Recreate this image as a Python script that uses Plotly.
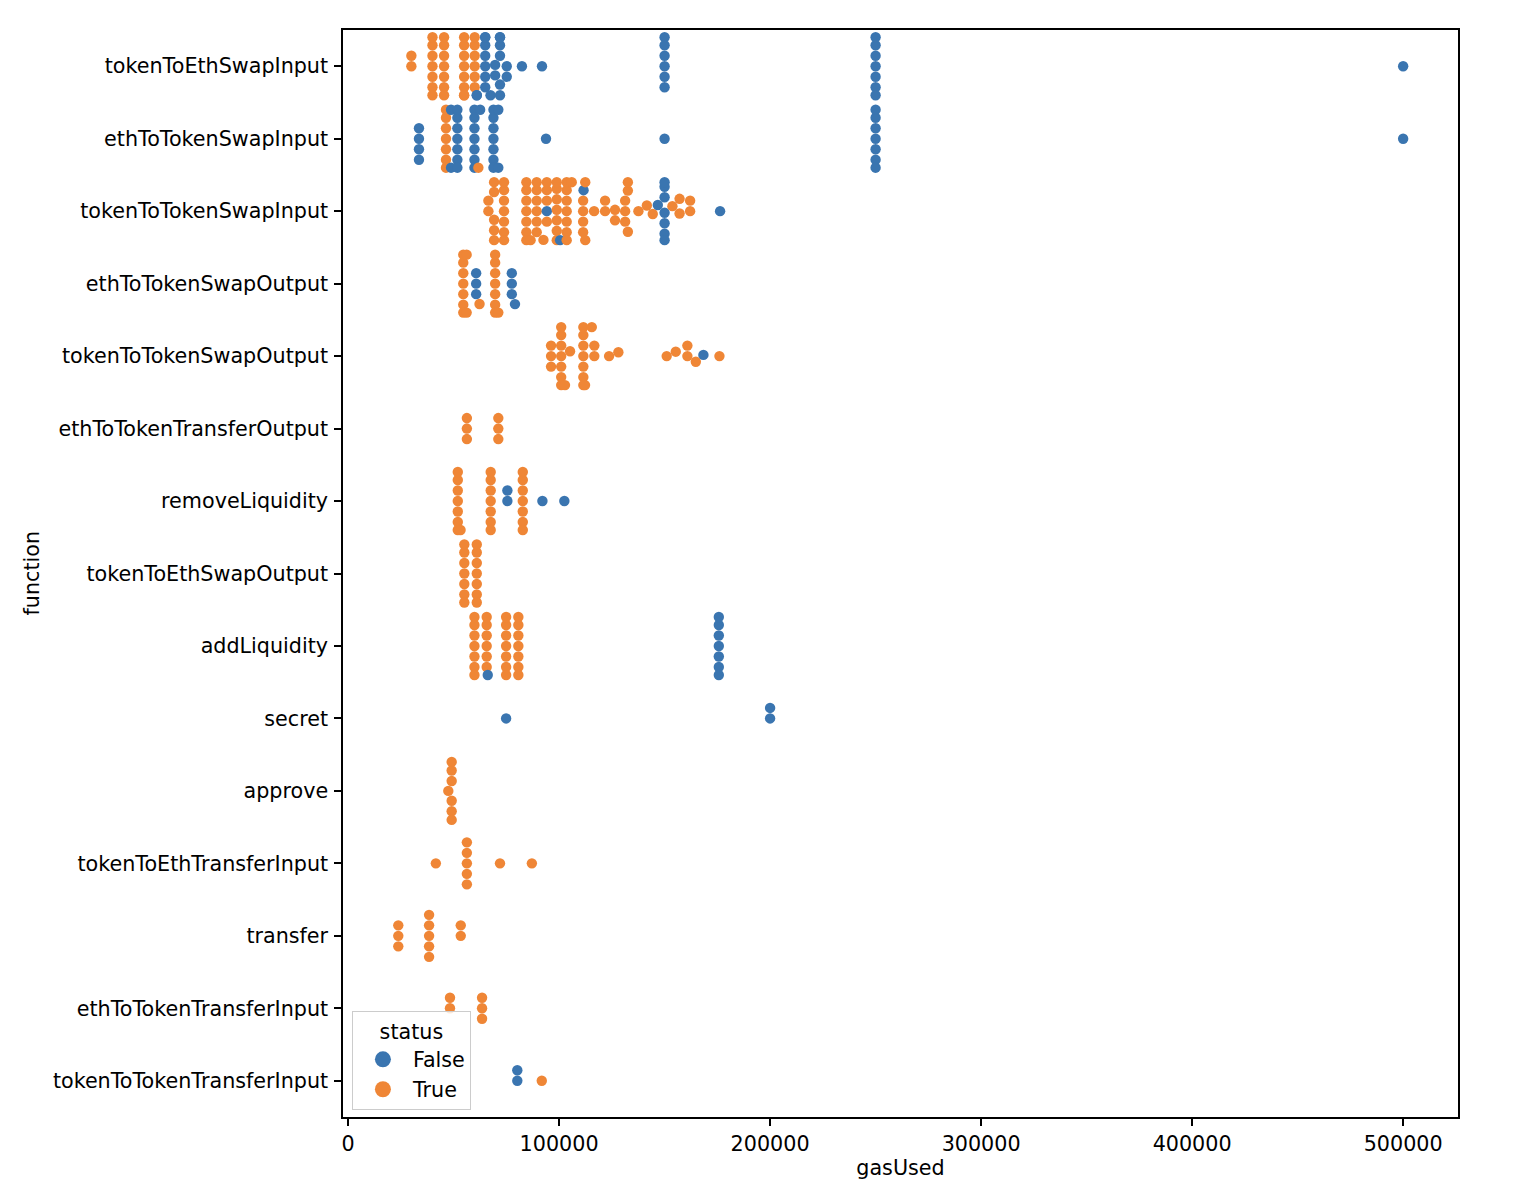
import math
import plotly.graph_objects as go

categories = ["tokenToEthSwapInput", "ethToTokenSwapInput", "tokenToTokenSwapInput",
              "ethToTokenSwapOutput", "tokenToTokenSwapOutput", "ethToTokenTransferOutput",
              "removeLiquidity", "tokenToEthSwapOutput", "addLiquidity", "secret", "approve",
              "tokenToEthTransferInput", "transfer", "ethToTokenTransferInput",
              "tokenToTokenTransferInput"]

# status == False : gasUsed values (per function) and how many transactions share each value
false_gas = [
    [61000, 65000, 67500, 69700, 72000, 75200, 82400, 91900, 150000, 250000, 500000],
    [33600, 48800, 51800, 59900, 62600, 68900, 71200, 93800, 150000, 250000, 500000],
    [94200, 100500, 111600, 146800, 150000, 176300],
    [60700, 77600, 79100],
    [168400],
    [],
    [75500, 92100, 102500],
    [],
    [66200, 175700],
    [74900, 200000],
    [],
    [],
    [],
    [],
    [80200],
]
false_n = [
    [2, 7, 1, 2, 6, 2, 1, 1, 6, 7, 1],
    [4, 2, 7, 7, 1, 7, 2, 1, 1, 7, 1],
    [1, 1, 1, 1, 7, 1],
    [3, 3, 1],
    [1],
    [],
    [2, 1, 1],
    [],
    [1, 7],
    [1, 2],
    [],
    [],
    [],
    [],
    [2],
]

# status == True
true_gas = [
    [30000, 40000, 45500, 55000, 60000],
    [46400, 61750],
    [66500, 69200, 73900, 84500, 86500, 89400, 92600, 94200, 98900, 103600, 106000,
     111400, 112400, 116600, 121800, 126500, 131300, 132600, 137600, 141600, 144400,
     153700, 157100, 162100],
    [54600, 56200, 62300, 69700, 71200],
    [96200, 101000, 102800, 105200, 111500, 112300, 115500, 116700, 123700, 128100,
     151000, 155300, 160800, 164800, 176000],
    [56300, 71200],
    [52000, 53300, 67600, 82800],
    [55100, 61000],
    [59900, 65700, 74900, 80700],
    [],
    [47500, 49100],
    [41600, 56300, 72000, 87100],
    [23800, 38400, 53400],
    [48300, 63500],
    [91800],
]
true_n = [
    [2, 7, 7, 8, 6],
    [7, 1],
    [2, 5, 7, 7, 1, 6, 1, 4, 7, 7, 1, 4, 2, 1, 2, 2, 3, 3, 1, 1, 1, 1, 2, 2],
    [7, 2, 1, 7, 1],
    [3, 7, 1, 1, 7, 1, 1, 2, 1, 1, 1, 1, 2, 1, 1],
    [3, 3],
    [7, 1, 7, 7],
    [7, 7],
    [7, 6, 7, 7],
    [],
    [1, 6],
    [1, 5, 1, 1],
    [3, 5, 2],
    [2, 3],
    [1],
]

COLOR_FALSE = "#3a75b0"
COLOR_TRUE = "#ef8636"

# ---- layout geometry -------------------------------------------------------
W, H = 1524, 1204
ML, MR, MT, MB = 343, 66, 30, 87
X_MIN, X_MAX = -2400, 526000
PLOT_W = W - ML - MR
PLOT_H = H - MT - MB
PX_X = PLOT_W / (X_MAX - X_MIN)
PX_Y = PLOT_H / len(categories)
D = 10.0          # marker diameter in px (swarm spacing)
HALF_W = 0.4      # swarm half width in category units


def beeswarm(vals):
    """Seaborn-like swarm: returns offsets (px, positive = up) for sorted values."""
    placed = []
    for v in vals:
        x = v * PX_X
        neighbors = []
        for xj, oj in reversed(placed):
            if abs(x - xj) < D:
                neighbors.append((xj, oj))
            else:
                break
        cands = [0.0]
        for xj, oj in neighbors:
            dx = x - xj
            dy = math.sqrt(max(D * D - dx * dx, 0.0)) * 1.05
            cands += [oj + dy, oj - dy]
        order = sorted(range(len(cands)), key=lambda k: abs(cands[k]))
        chosen = cands[order[-1]]
        for k in order:
            c = cands[k]
            if all((x - xj) ** 2 + (c - oj) ** 2 >= D * D - 1e-9 for xj, oj in neighbors):
                chosen = c
                break
        placed.append((x, chosen))
    return [o for _, o in placed]


xs, ys, cols = [], [], []
for ci in range(len(categories)):
    pts = []
    for v, n in zip(false_gas[ci], false_n[ci]):
        pts += [(v, COLOR_FALSE)] * n
    for v, n in zip(true_gas[ci], true_n[ci]):
        pts += [(v, COLOR_TRUE)] * n
    pts.sort(key=lambda p: p[0])
    if not pts:
        continue
    offs = beeswarm([p[0] for p in pts])
    for (v, c), o in zip(pts, offs):
        yo = -o / PX_Y
        yo = max(-HALF_W, min(HALF_W, yo))
        xs.append(v)
        ys.append(ci + yo)
        cols.append(c)

fig = go.Figure()
fig.add_trace(go.Scatter(x=xs, y=ys, mode="markers", showlegend=False, hoverinfo="x",
                         marker=dict(size=10.4, color=cols, line=dict(width=0))))
fig.add_trace(go.Scatter(x=[None], y=[None], mode="markers", name="False",
                         marker=dict(size=18, color=COLOR_FALSE)))
fig.add_trace(go.Scatter(x=[None], y=[None], mode="markers", name="True",
                         marker=dict(size=18, color=COLOR_TRUE)))

FS = 20.7
axis_common = dict(showline=True, linecolor="black", linewidth=1.5, mirror=True,
                   ticks="outside", ticklen=7, tickwidth=1.5, tickcolor="black",
                   showgrid=False, zeroline=False,
                   tickfont=dict(size=FS, color="black"))

fig.update_layout(
    width=W, height=H, autosize=False,
    margin=dict(l=ML, r=MR, t=MT, b=MB),
    paper_bgcolor="white", plot_bgcolor="white",
    font=dict(family="DejaVu Sans", size=FS, color="black"),
    xaxis=dict(range=[X_MIN, X_MAX], tickvals=[0, 100000, 200000, 300000, 400000, 500000],
               tickformat="d", ticklabelstandoff=0,
               title=dict(text="gasUsed", standoff=4, font=dict(size=FS)),
               **axis_common),
    yaxis=dict(range=[len(categories) - 0.5, -0.5], tickvals=list(range(len(categories))),
               ticktext=categories, ticklabelstandoff=2,
               **axis_common),
    legend=dict(x=0.008, y=0.006, xanchor="left", yanchor="bottom",
                bgcolor="rgba(255,255,255,0.8)", bordercolor="#cccccc", borderwidth=1,
                title=dict(text="status", side="top center", font=dict(size=FS)),
                font=dict(size=FS), itemsizing="trace", itemwidth=50),
    annotations=[dict(text="function", textangle=-90, showarrow=False,
                      xref="paper", yref="paper", x=(31 - ML) / PLOT_W, y=0.5,
                      xanchor="center", yanchor="middle", font=dict(size=FS))],
)

fig.write_html("out.html")
